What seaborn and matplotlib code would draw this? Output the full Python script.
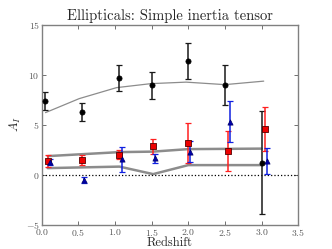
import numpy as np
import pandas as pd
import matplotlib
matplotlib.use("Agg")
import matplotlib.pyplot as plt
import seaborn as sns

# Data
z_black = [0.05, 0.55, 1.05, 1.50, 2.00, 2.50, 3.00]
a_black = [7.4, 6.25, 9.7, 8.95, 11.35, 9.0, 1.2]
e_black = [0.9, 0.9, 1.3, 1.35, 1.8, 2.0, 5.15]

z_red = [0.08, 0.55, 1.05, 1.52, 2.00, 2.54, 3.05]
a_red = [1.4, 1.45, 2.0, 2.85, 3.15, 2.35, 4.6]
e_red = [0.6, 0.5, 0.45, 0.75, 2.0, 2.0, 2.2]

z_blue = [0.11, 0.58, 1.09, 1.55, 2.03, 2.57, 3.08]
a_blue = [1.3, -0.5, 1.55, 1.65, 2.3, 5.3, 1.35]
e_blue = [0.3, 0.3, 1.25, 0.45, 1.05, 2.05, 1.3]

z_model = [0.05, 0.51, 1.02, 1.49, 1.97, 2.50, 3.03]
a_model_top = [6.2, 7.6, 8.7, 9.1, 9.25, 9.0, 9.35]

z_band = [0.08, 1.06, 1.52, 2.00, 3.00]
a_band_hi = [1.85, 2.25, 2.3, 2.55, 2.6]
a_band_lo = [0.65, 0.8, 0.05, 0.95, 0.95]

x_ticks = [0.0, 0.5, 1.0, 1.5, 2.0, 2.5, 3.0, 3.5]
y_ticks = [-5, 0, 5, 10, 15]

sns.set_theme(style="ticks")
plt.rcParams['font.family'] = ['cmr10', 'DejaVu Serif']
plt.rcParams['mathtext.fontset'] = 'cm'
plt.rcParams['axes.formatter.use_mathtext'] = True
plt.rcParams['axes.unicode_minus'] = True

fig = plt.figure(figsize=(3.32, 2.49), dpi=100)
ax = fig.add_axes([0.126, 0.098, 0.772, 0.803])

# model lines
sns.lineplot(x=z_model, y=a_model_top, ax=ax, color="0.55", lw=0.9, sort=False)
sns.lineplot(x=z_band, y=a_band_hi, ax=ax, color="0.55", lw=1.8, sort=False)
sns.lineplot(x=z_band, y=a_band_lo, ax=ax, color="0.55", lw=1.8, sort=False)

ax.axhline(0, color="black", ls=":", lw=0.9)

# error bars
ax.errorbar(z_black, a_black, yerr=e_black, fmt="none", ecolor="0.1", elinewidth=1.1, capsize=2, capthick=0.9)
ax.errorbar(z_red, a_red, yerr=e_red, fmt="none", ecolor="#ff2020", elinewidth=1.1, capsize=2, capthick=0.9)
ax.errorbar(z_blue, a_blue, yerr=e_blue, fmt="none", ecolor="#1020e0", elinewidth=1.1, capsize=2, capthick=0.9)

sns.scatterplot(x=z_black, y=a_black, ax=ax, marker="o", color="black", s=14, edgecolor="black", linewidth=0.5, zorder=5)
sns.scatterplot(x=z_red, y=a_red, ax=ax, marker="s", color="#ee0000", s=20, edgecolor="#550000", linewidth=0.6, zorder=5)
sns.scatterplot(x=z_blue, y=a_blue, ax=ax, marker="^", color="#0000aa", s=14, edgecolor="#000066", linewidth=0.5, zorder=5)

ax.set_xlim(0, 3.5)
ax.set_ylim(-5, 15)
ax.set_xticks(x_ticks)
ax.set_yticks(y_ticks)
ax.tick_params(direction="in", top=True, right=True, length=3, width=0.6, labelsize=7, colors="0.35", labelcolor="0.35", pad=1.5)
for s in ax.spines.values():
    s.set_color("0.5")
    s.set_linewidth(1.0)

ax.set_title("Ellipticals: Simple inertia tensor", fontsize=10.5, pad=3)
ax.set_xlabel("Redshift", fontsize=9, labelpad=-0.5)
ax.set_ylabel("$A_I$", fontsize=9, labelpad=2)

fig.savefig("out.png", dpi=100)
